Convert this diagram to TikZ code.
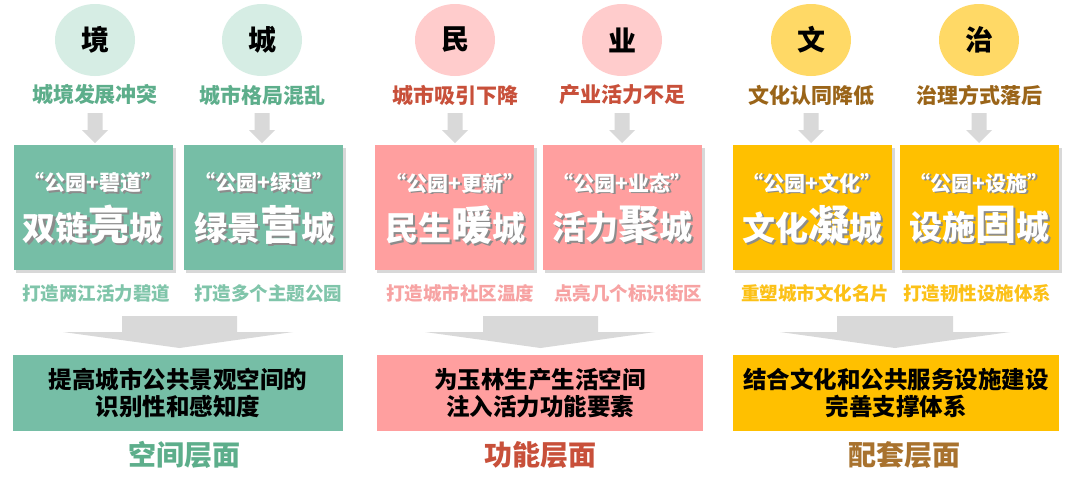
\documentclass[tikz,border=0pt]{standalone}
\usepackage{fontspec}
\setmainfont{Noto Sans CJK SC}
\usetikzlibrary{shapes.geometric}
\definecolor{gDark}{HTML}{5DAE8B}
\definecolor{gBox}{HTML}{76BEA6}
\definecolor{gCirc}{HTML}{D6EDE4}
\definecolor{gSub}{HTML}{80C5AA}
\definecolor{pDark}{HTML}{C8503A}
\definecolor{pBox}{HTML}{FF9F9F}
\definecolor{pCirc}{HTML}{FFCCCC}
\definecolor{pSub}{HTML}{F7A3A3}
\definecolor{yDark}{HTML}{9A6418}
\definecolor{yBox}{HTML}{FFC000}
\definecolor{yCirc}{HTML}{FFD966}
\definecolor{ySub}{HTML}{FCC117}
\definecolor{yFoot}{HTML}{A8722E}
\definecolor{arrowgray}{HTML}{D9D9D9}
\newcommand\bigc[1]{{\fontsize{41}{41}\selectfont #1}}
\begin{document}
\begin{tikzpicture}[x=1pt,y=-1pt,
  circ/.style={ellipse,minimum width=80pt,minimum height=72pt,inner sep=0pt,font=\fontsize{28}{28}\selectfont\bfseries},
  head/.style={inner sep=0pt,font=\fontsize{21}{21}\selectfont\bfseries},
  sub/.style={inner sep=0pt,font=\fontsize{18.5}{18.5}\selectfont\bfseries},
  card/.style={rectangle,minimum width=159pt,minimum height=125pt,inner sep=0pt},
  cardshadow/.style={fill=black!30,opacity=0.5},
  quoteline/.style={inner sep=0pt,font=\fontsize{21}{21}\selectfont\bfseries},
  bigline/.style={inner sep=0pt,font=\fontsize{33}{33}\selectfont\bfseries},
  result/.style={rectangle,minimum height=76pt,inner sep=0pt,align=center,
    font=\fontsize{23.5}{27}\selectfont\bfseries},
  foot/.style={inner sep=0pt,font=\fontsize{28}{28}\selectfont\bfseries}]
\useasboundingbox (0,0) rectangle (1080,488);
\fill[white] (0,0) rectangle (1080,488);

% ---------- top items ----------
% name, x, circfill, char, headcolor, headtext, box centre x, boxfill
\newcommand\topitem[8]{%
  \node[circ,fill=#3] (c#1) at (#2,40) {#4};
  \node[head,text=#5] (h#1) at (#2,95) {#6};
  \fill[arrowgray] ({#2-7.5},113) -- ({#2+7.5},113) -- ({#2+7.5},130) -- ({#2+13},130)
     -- (#2,143) -- ({#2-13},130) -- ({#2-7.5},130) -- cycle;
  \fill[cardshadow] ({#7-78},148) rectangle ({#7+82.5},273);
  \node[card,fill=#8] (b#1) at (#7,207.5) {};
}
\newcommand\cardsub[4]{% name, x, colour, text
  \node[sub,text=#3] (s#1) at (#2,293) {#4};
}
\newcommand\cardtext[4]{% name, x, quote, big
  \node[quoteline,text=black!45] at ({#2+1.7},184.7) {#3};
  \node[quoteline,text=white] (q#1) at (#2,183) {#3};
  \node[bigline,text=black!45] at ({#2+2},227) {#4};
  \node[bigline,text=white] (t#1) at (#2,225) {#4};
}

\topitem{a}{95}{gCirc}{境}{gDark}{城境发展冲突}{93.5}{gBox}
\topitem{b}{262}{gCirc}{城}{gDark}{城市格局混乱}{263.5}{gBox}
\topitem{c}{455}{pCirc}{民}{pDark}{城市吸引下降}{454.5}{pBox}
\topitem{d}{622}{pCirc}{业}{pDark}{产业活力不足}{622.5}{pBox}
\topitem{e}{811}{yCirc}{文}{yDark}{文化认同降低}{812.5}{yBox}
\topitem{f}{979}{yCirc}{治}{yDark}{治理方式落后}{979.5}{yBox}

\cardsub{a}{96.5}{gSub}{打造两江活力碧道}
\cardsub{b}{268}{gSub}{打造多个主题公园}
\cardsub{c}{460}{pSub}{打造城市社区温度}
\cardsub{d}{628}{pSub}{点亮几个标识街区}
\cardsub{e}{815}{ySub}{重塑城市文化名片}
\cardsub{f}{977}{ySub}{打造韧性设施体系}

\cardtext{a}{93}{“公园+碧道”}{双链\bigc{亮}城}
\cardtext{b}{264}{“公园+绿道”}{绿景\bigc{营}城}
\cardtext{c}{455}{“公园+更新”}{民生\bigc{暖}城}
\cardtext{d}{622}{“公园+业态”}{活力\bigc{聚}城}
\cardtext{e}{812}{“公园+文化”}{文化\bigc{凝}城}
\cardtext{f}{979}{“公园+设施”}{设施\bigc{固}城}

% ---------- big arrows ----------
\newcommand\bigarrow[4]{% left wing, rect left, rect right, right wing ; tip = centre
  \fill[arrowgray] (#2,316) -- (#3,316) -- (#3,332) -- (#4,332) -- ({(#2+#3)/2},348)
     -- (#1,332) -- (#2,332) -- cycle;
}
\bigarrow{63}{122}{237}{293}
\bigarrow{425}{483}{598}{655}
\bigarrow{780}{837}{953}{1010}

% ---------- results ----------
\node[result,fill=gBox,minimum width=330pt] (ra) at (178,393)
  {提高城市公共景观空间的\\识别性和感知度};
\node[result,fill=pBox,minimum width=326pt] (rb) at (540,393)
  {为玉林生产生活空间\\注入活力功能要素};
\node[result,fill=yBox,minimum width=326pt] (rc) at (896,393)
  {结合文化和公共服务设施建设\\完善支撑体系};

\node[foot,text=gDark] (fa) at (184,455) {空间层面};
\node[foot,text=pDark] (fb) at (540,455) {功能层面};
\node[foot,text=yFoot] (fc) at (904,455) {配套层面};
\end{tikzpicture}
\end{document}
